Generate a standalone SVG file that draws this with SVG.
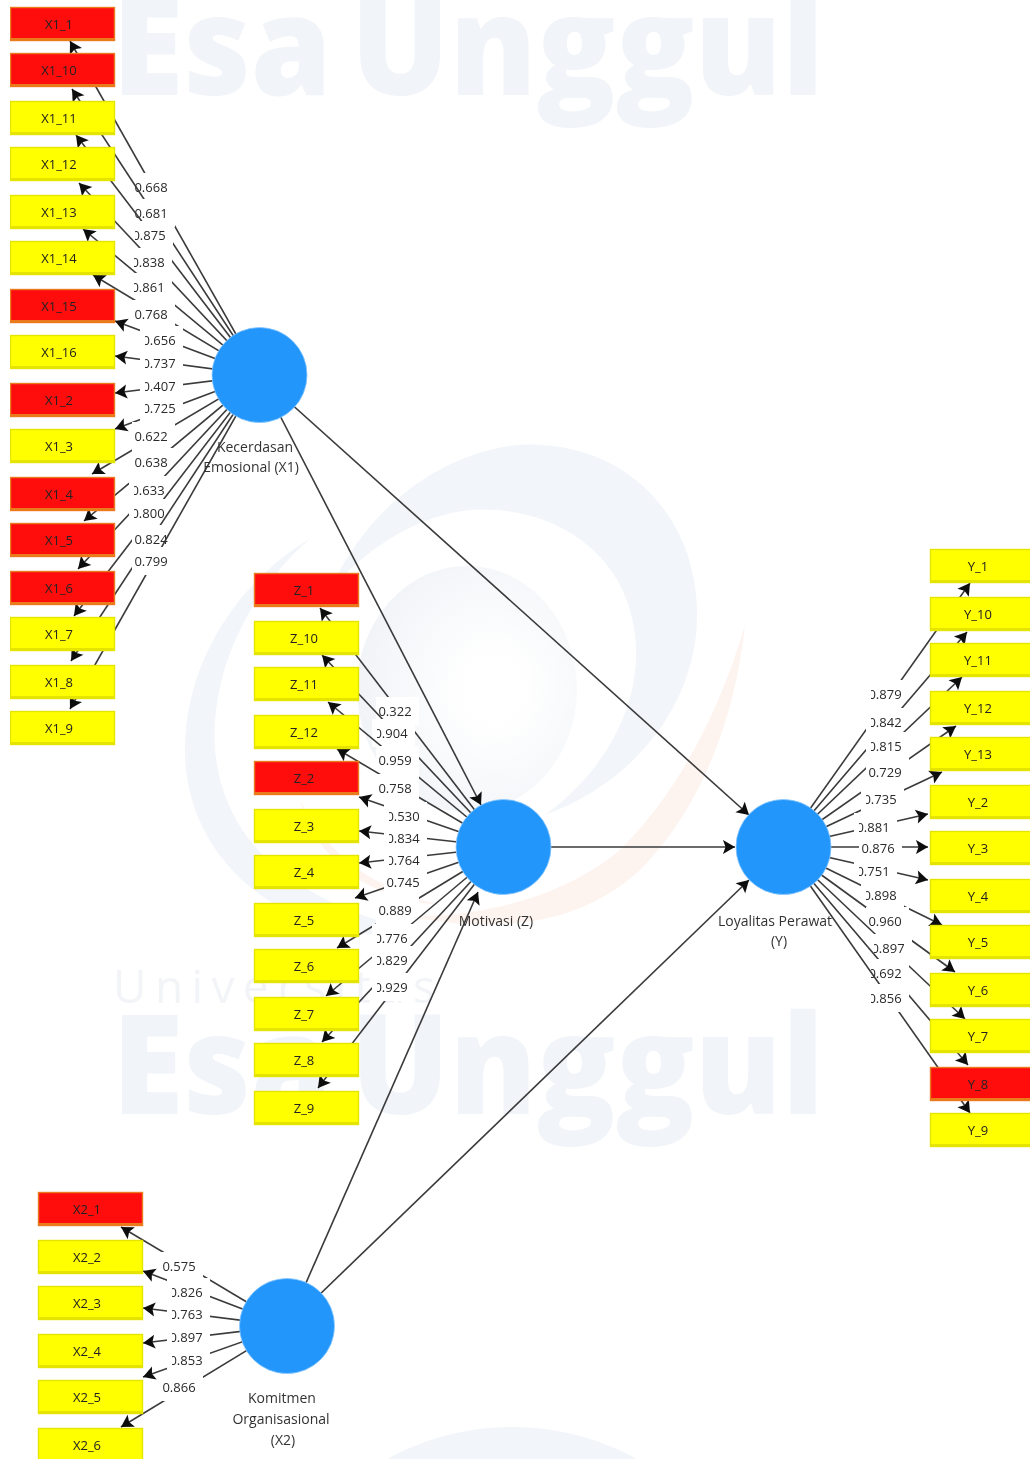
<svg xmlns="http://www.w3.org/2000/svg" width="1030" height="1459" viewBox="0 0 1030 1459">
<style>
text{font-family:"Open Sans","Noto Sans","Liberation Sans",sans-serif;font-size:13px;fill:#2a2a2a}
.wm{font-weight:800;font-size:139px;fill:#f1f4f8;word-spacing:-16px}
.wu{font-weight:400;font-size:46px;fill:#f2f4f8}
.s{fill:#f2f5f9}
.o{fill:#fdf4f0}
#connectors path{stroke:#3a3a3a;stroke-width:1.6;fill:none;marker-end:url(#a)}
#connectors rect{fill:#fff}
#connectors text{text-anchor:middle}
.y{fill:url(#yg);stroke:#e4e400;stroke-width:1.4}
.r{fill:url(#rg);stroke:#ea7a1e;stroke-width:1.4}
.c{fill:#2196fb;stroke:#8cc8ff;stroke-width:.8}
.t{text-anchor:middle;fill:#222}
.n{text-anchor:middle;font-size:14px;fill:#333}
</style>
<defs>
<marker id="a" markerUnits="userSpaceOnUse" markerWidth="16" markerHeight="16" refX="13" refY="8" orient="auto" viewBox="0 0 16 16"><path d="M1 1L13 8L1 15L3.500 8Z" fill="#0c0c0c"/></marker>
<linearGradient id="yg" x1="0" y1="0" x2="0" y2="1"><stop offset=".93" stop-color="#ffff00"/><stop offset=".93" stop-color="#e4e400"/></linearGradient>
<linearGradient id="rg" x1="0" y1="0" x2="0" y2="1"><stop offset=".93" stop-color="#ff1010"/><stop offset=".93" stop-color="#ea7a1e"/></linearGradient>
<radialGradient id="d" cx=".62" cy=".5" r=".65"><stop offset=".2" stop-color="#fff"/><stop offset="1" stop-color="#f0f3f7"/></radialGradient>
<filter id="b" x="0" y="0" width="100%" height="100%"><feGaussianBlur stdDeviation=".55"/></filter>
</defs>
<rect width="1030" height="1459" fill="#fff"/>
<g filter="url(#b)">
<g id="watermark">
<text class="wm" x="112" y="95" textLength="712" lengthAdjust="spacingAndGlyphs">Esa Unggul</text>
<text class="wm" x="112" y="1114" textLength="712" lengthAdjust="spacingAndGlyphs">Esa Unggul</text>
<text class="wu" x="113" y="1003" textLength="322" lengthAdjust="spacing">Universitas</text>
<circle class="s" cx="512" cy="1687" r="260"/>
<ellipse cx="467" cy="689" rx="110" ry="123" fill="url(#d)"/>
<path class="s" d="M330 590C380 480 480 440 540 445C640 450 700 530 697 620C695 700 640 780 545 815C620 760 650 680 630 610C610 540 540 505 470 510C420 515 370 545 330 590Z"/>
<path class="s" d="M311 538C240 580 185 660 185 750C185 840 250 910 340 930C370 936 390 935 410 930C300 900 225 850 215 750C210 670 250 590 311 538Z"/>
<path class="o" d="M745 625C735 720 700 810 640 870C580 925 500 935 400 915C470 920 560 900 620 850C680 790 720 710 745 625Z"/>
<path class="o" d="M300 800C330 860 380 890 440 905C380 900 320 870 300 800Z"/>
</g>
<g id="connectors">
<path d="M259 375L70 41"/><rect x="132" y="173" width="43" height="28"/><text x="151" y="192">0.668</text>
<path d="M259 375L72 89"/><rect x="132" y="199" width="43" height="28"/><text x="151" y="218">0.681</text>
<path d="M259 375L76 135"/><rect x="130" y="221" width="43" height="28"/><text x="149" y="240">0.875</text><rect x="131" y="227" width="4" height="16"/>
<path d="M259 375L79 183"/><rect x="129" y="248" width="43" height="28"/><text x="148" y="267">0.838</text><rect x="129" y="254" width="5" height="16"/>
<path d="M259 375L83 229"/><rect x="129" y="273" width="43" height="28"/><text x="148" y="292">0.861</text><rect x="129" y="279" width="5" height="16"/>
<path d="M259 375L93 275"/><rect x="132" y="300" width="43" height="28"/><text x="151" y="319">0.768</text>
<path d="M259 375L115 321"/><rect x="140" y="326" width="43" height="28"/><text x="159" y="345">0.656</text><rect x="140" y="332" width="5" height="16"/>
<path d="M259 375L115 356"/><rect x="140" y="349" width="43" height="28"/><text x="159" y="368">0.737</text><rect x="140" y="355" width="5" height="16"/>
<path d="M259 375L115 393"/><rect x="140" y="372" width="43" height="28"/><text x="159" y="391">0.407</text><rect x="140" y="378" width="5" height="16"/>
<path d="M259 375L115 429"/><rect x="140" y="394" width="43" height="28"/><text x="159" y="413">0.725</text><rect x="140" y="400" width="5" height="16"/>
<path d="M259 375L92 474"/><rect x="132" y="422" width="43" height="28"/><text x="151" y="441">0.622</text>
<path d="M259 375L84 521"/><rect x="132" y="448" width="43" height="28"/><text x="151" y="467">0.638</text>
<path d="M259 375L78 569"/><rect x="129" y="476" width="43" height="28"/><text x="148" y="495">0.633</text><rect x="129" y="482" width="5" height="16"/>
<path d="M259 375L74 616"/><rect x="129" y="499" width="43" height="28"/><text x="148" y="518">0.800</text><rect x="129" y="505" width="5" height="16"/>
<path d="M259 375L71 661"/><rect x="132" y="525" width="43" height="28"/><text x="151" y="544">0.824</text>
<path d="M259 375L70 709"/><rect x="132" y="547" width="43" height="28"/><text x="151" y="566">0.799</text>

<path d="M503 847L320 608"/><rect x="376" y="697" width="43" height="28"/><text x="395" y="716">0.322</text>
<path d="M503 847L322 655"/><rect x="372" y="719" width="43" height="28"/><text x="391" y="738">0.904</text><rect x="372" y="725" width="5" height="16"/>
<path d="M503 847L328 702"/><rect x="376" y="746" width="43" height="28"/><text x="395" y="765">0.959</text>
<path d="M503 847L337 749"/><rect x="376" y="774" width="43" height="28"/><text x="395" y="793">0.758</text>
<path d="M503 847L359 797"/><rect x="384" y="802" width="43" height="28"/><text x="403" y="821">0.530</text><rect x="384" y="808" width="5" height="16"/>
<path d="M503 847L359 831"/><rect x="384" y="824" width="43" height="28"/><text x="403" y="843">0.834</text><rect x="384" y="830" width="5" height="16"/>
<path d="M503 847L359 863"/><rect x="384" y="846" width="43" height="28"/><text x="403" y="865">0.764</text><rect x="384" y="852" width="5" height="16"/>
<path d="M503 847L355 898"/><rect x="384" y="868" width="43" height="28"/><text x="403" y="887">0.745</text>
<path d="M503 847L337 948"/><rect x="376" y="896" width="43" height="28"/><text x="395" y="915">0.889</text>
<path d="M503 847L326 996"/><rect x="372" y="924" width="43" height="28"/><text x="391" y="943">0.776</text><rect x="372" y="930" width="5" height="16"/>
<path d="M503 847L322 1042"/><rect x="372" y="946" width="43" height="28"/><text x="391" y="965">0.829</text><rect x="372" y="952" width="5" height="16"/>
<path d="M503 847L318 1088"/><rect x="372" y="973" width="43" height="28"/><text x="391" y="992">0.929</text><rect x="372" y="979" width="5" height="16"/>

<path d="M783 847L970 583"/><rect x="866" y="680" width="43" height="28"/><text x="885" y="699">0.879</text><rect x="866" y="686" width="5" height="16"/>
<path d="M783 847L967 632"/><rect x="866" y="708" width="43" height="28"/><text x="885" y="727">0.842</text><rect x="866" y="714" width="5" height="16"/>
<path d="M783 847L962 677"/><rect x="866" y="732" width="43" height="28"/><text x="885" y="751">0.815</text><rect x="866" y="738" width="5" height="16"/>
<path d="M783 847L956 726"/><rect x="866" y="758" width="43" height="28"/><text x="885" y="777">0.729</text>
<path d="M783 847L942 772"/><rect x="861" y="785" width="43" height="28"/><text x="880" y="804">0.735</text><rect x="861" y="791" width="5" height="16"/>
<path d="M783 847L928 814"/><rect x="854" y="813" width="43" height="28"/><text x="873" y="832">0.881</text><rect x="854" y="819" width="5" height="16"/>
<path d="M783 847L928 847"/><rect x="859" y="834" width="43" height="28"/><text x="878" y="853">0.876</text>
<path d="M783 847L928 880"/><rect x="854" y="857" width="43" height="28"/><text x="873" y="876">0.751</text><rect x="854" y="863" width="5" height="16"/>
<path d="M783 847L942 925"/><rect x="861" y="881" width="43" height="28"/><text x="880" y="900">0.898</text><rect x="861" y="887" width="5" height="16"/>
<path d="M783 847L955 972"/><rect x="866" y="907" width="43" height="28"/><text x="885" y="926">0.960</text>
<path d="M783 847L965 1019"/><rect x="869" y="934" width="43" height="28"/><text x="888" y="953">0.897</text><rect x="869" y="940" width="5" height="16"/>
<path d="M783 847L968 1065"/><rect x="866" y="959" width="43" height="28"/><text x="885" y="978">0.692</text><rect x="866" y="965" width="5" height="16"/>
<path d="M783 847L970 1113"/><rect x="866" y="984" width="43" height="28"/><text x="885" y="1003">0.856</text><rect x="866" y="990" width="5" height="16"/>

<path d="M287 1326L121 1227"/><rect x="160" y="1252" width="43" height="28"/><text x="179" y="1271">0.575</text>
<path d="M287 1326L143 1271"/><rect x="167" y="1278" width="43" height="28"/><text x="186" y="1297">0.826</text><rect x="167" y="1284" width="5" height="16"/>
<path d="M287 1326L143 1308"/><rect x="167" y="1300" width="43" height="28"/><text x="186" y="1319">0.763</text><rect x="167" y="1306" width="5" height="16"/>
<path d="M287 1326L143 1343"/><rect x="167" y="1323" width="43" height="28"/><text x="186" y="1342">0.897</text><rect x="167" y="1329" width="5" height="16"/>
<path d="M287 1326L143 1377"/><rect x="167" y="1346" width="43" height="28"/><text x="186" y="1365">0.853</text><rect x="167" y="1352" width="5" height="16"/>
<path d="M287 1326L121 1427"/><rect x="160" y="1373" width="43" height="28"/><text x="179" y="1392">0.866</text>

<path d="M259 375L481 805"/>
<path d="M259 375L749 815"/>
<path d="M551 847L735 847"/>
<path d="M287 1326L478 892"/>
<path d="M287 1326L749 880"/>
</g>
<g id="X1_1"><rect class="r" x="10.500" y="7.500" width="104" height="33"/><text class="t" x="59" y="29">X1_1</text></g>
<g id="X1_10"><rect class="r" x="10.500" y="53.500" width="104" height="33"/><text class="t" x="59" y="75">X1_10</text></g>
<g id="X1_11"><rect class="y" x="10.500" y="101.500" width="104" height="33"/><text class="t" x="59" y="123">X1_11</text></g>
<g id="X1_12"><rect class="y" x="10.500" y="147.500" width="104" height="33"/><text class="t" x="59" y="169">X1_12</text></g>
<g id="X1_13"><rect class="y" x="10.500" y="195.500" width="104" height="33"/><text class="t" x="59" y="217">X1_13</text></g>
<g id="X1_14"><rect class="y" x="10.500" y="241.500" width="104" height="33"/><text class="t" x="59" y="263">X1_14</text></g>
<g id="X1_15"><rect class="r" x="10.500" y="289.500" width="104" height="33"/><text class="t" x="59" y="311">X1_15</text></g>
<g id="X1_16"><rect class="y" x="10.500" y="335.500" width="104" height="33"/><text class="t" x="59" y="357">X1_16</text></g>
<g id="X1_2"><rect class="r" x="10.500" y="383.500" width="104" height="33"/><text class="t" x="59" y="405">X1_2</text></g>
<g id="X1_3"><rect class="y" x="10.500" y="429.500" width="104" height="33"/><text class="t" x="59" y="451">X1_3</text></g>
<g id="X1_4"><rect class="r" x="10.500" y="477.500" width="104" height="33"/><text class="t" x="59" y="499">X1_4</text></g>
<g id="X1_5"><rect class="r" x="10.500" y="523.500" width="104" height="33"/><text class="t" x="59" y="545">X1_5</text></g>
<g id="X1_6"><rect class="r" x="10.500" y="571.500" width="104" height="33"/><text class="t" x="59" y="593">X1_6</text></g>
<g id="X1_7"><rect class="y" x="10.500" y="617.500" width="104" height="33"/><text class="t" x="59" y="639">X1_7</text></g>
<g id="X1_8"><rect class="y" x="10.500" y="665.500" width="104" height="33"/><text class="t" x="59" y="687">X1_8</text></g>
<g id="X1_9"><rect class="y" x="10.500" y="711.500" width="104" height="33"/><text class="t" x="59" y="733">X1_9</text></g>

<g id="Z_1"><rect class="r" x="254.500" y="573.500" width="104" height="33"/><text class="t" x="304" y="595">Z_1</text></g>
<g id="Z_10"><rect class="y" x="254.500" y="621.500" width="104" height="33"/><text class="t" x="304" y="643">Z_10</text></g>
<g id="Z_11"><rect class="y" x="254.500" y="667.500" width="104" height="33"/><text class="t" x="304" y="689">Z_11</text></g>
<g id="Z_12"><rect class="y" x="254.500" y="715.500" width="104" height="33"/><text class="t" x="304" y="737">Z_12</text></g>
<g id="Z_2"><rect class="r" x="254.500" y="761.500" width="104" height="33"/><text class="t" x="304" y="783">Z_2</text></g>
<g id="Z_3"><rect class="y" x="254.500" y="809.500" width="104" height="33"/><text class="t" x="304" y="831">Z_3</text></g>
<g id="Z_4"><rect class="y" x="254.500" y="855.500" width="104" height="33"/><text class="t" x="304" y="877">Z_4</text></g>
<g id="Z_5"><rect class="y" x="254.500" y="903.500" width="104" height="33"/><text class="t" x="304" y="925">Z_5</text></g>
<g id="Z_6"><rect class="y" x="254.500" y="949.500" width="104" height="33"/><text class="t" x="304" y="971">Z_6</text></g>
<g id="Z_7"><rect class="y" x="254.500" y="997.500" width="104" height="33"/><text class="t" x="304" y="1019">Z_7</text></g>
<g id="Z_8"><rect class="y" x="254.500" y="1043.500" width="104" height="33"/><text class="t" x="304" y="1065">Z_8</text></g>
<g id="Z_9"><rect class="y" x="254.500" y="1091.500" width="104" height="33"/><text class="t" x="304" y="1113">Z_9</text></g>

<g id="Y_1"><rect class="y" x="930.500" y="549.500" width="104" height="33"/><text class="t" x="978" y="571">Y_1</text></g>
<g id="Y_10"><rect class="y" x="930.500" y="597.500" width="104" height="33"/><text class="t" x="978" y="619">Y_10</text></g>
<g id="Y_11"><rect class="y" x="930.500" y="643.500" width="104" height="33"/><text class="t" x="978" y="665">Y_11</text></g>
<g id="Y_12"><rect class="y" x="930.500" y="691.500" width="104" height="33"/><text class="t" x="978" y="713">Y_12</text></g>
<g id="Y_13"><rect class="y" x="930.500" y="737.500" width="104" height="33"/><text class="t" x="978" y="759">Y_13</text></g>
<g id="Y_2"><rect class="y" x="930.500" y="785.500" width="104" height="33"/><text class="t" x="978" y="807">Y_2</text></g>
<g id="Y_3"><rect class="y" x="930.500" y="831.500" width="104" height="33"/><text class="t" x="978" y="853">Y_3</text></g>
<g id="Y_4"><rect class="y" x="930.500" y="879.500" width="104" height="33"/><text class="t" x="978" y="901">Y_4</text></g>
<g id="Y_5"><rect class="y" x="930.500" y="925.500" width="104" height="33"/><text class="t" x="978" y="947">Y_5</text></g>
<g id="Y_6"><rect class="y" x="930.500" y="973.500" width="104" height="33"/><text class="t" x="978" y="995">Y_6</text></g>
<g id="Y_7"><rect class="y" x="930.500" y="1019.500" width="104" height="33"/><text class="t" x="978" y="1041">Y_7</text></g>
<g id="Y_8"><rect class="r" x="930.500" y="1067.500" width="104" height="33"/><text class="t" x="978" y="1089">Y_8</text></g>
<g id="Y_9"><rect class="y" x="930.500" y="1113.500" width="104" height="33"/><text class="t" x="978" y="1135">Y_9</text></g>

<g id="X2_1"><rect class="r" x="38.500" y="1192.500" width="104" height="33"/><text class="t" x="87" y="1214">X2_1</text></g>
<g id="X2_2"><rect class="y" x="38.500" y="1240.500" width="104" height="33"/><text class="t" x="87" y="1262">X2_2</text></g>
<g id="X2_3"><rect class="y" x="38.500" y="1286.500" width="104" height="33"/><text class="t" x="87" y="1308">X2_3</text></g>
<g id="X2_4"><rect class="y" x="38.500" y="1334.500" width="104" height="33"/><text class="t" x="87" y="1356">X2_4</text></g>
<g id="X2_5"><rect class="y" x="38.500" y="1380.500" width="104" height="33"/><text class="t" x="87" y="1402">X2_5</text></g>
<g id="X2_6"><rect class="y" x="38.500" y="1428.500" width="104" height="33"/><text class="t" x="87" y="1450">X2_6</text></g>

<g id="X1"><circle class="c" cx="259.500" cy="375" r="47.500"/><text class="n" x="255" y="452">Kecerdasan</text><text class="n" x="251" y="472">Emosional (X1)</text></g>
<g id="Z"><circle class="c" cx="503.500" cy="847" r="47.500"/><text class="n" x="496" y="926">Motivasi (Z)</text></g>
<g id="Y"><circle class="c" cx="783.500" cy="847" r="47.500"/><text class="n" x="775" y="926">Loyalitas Perawat</text><text class="n" x="779" y="946">(Y)</text></g>
<g id="X2"><circle class="c" cx="287" cy="1326" r="47.500"/><text class="n" x="282" y="1403">Komitmen</text><text class="n" x="281" y="1424">Organisasional</text><text class="n" x="283" y="1445">(X2)</text></g>
</g>
</svg>
